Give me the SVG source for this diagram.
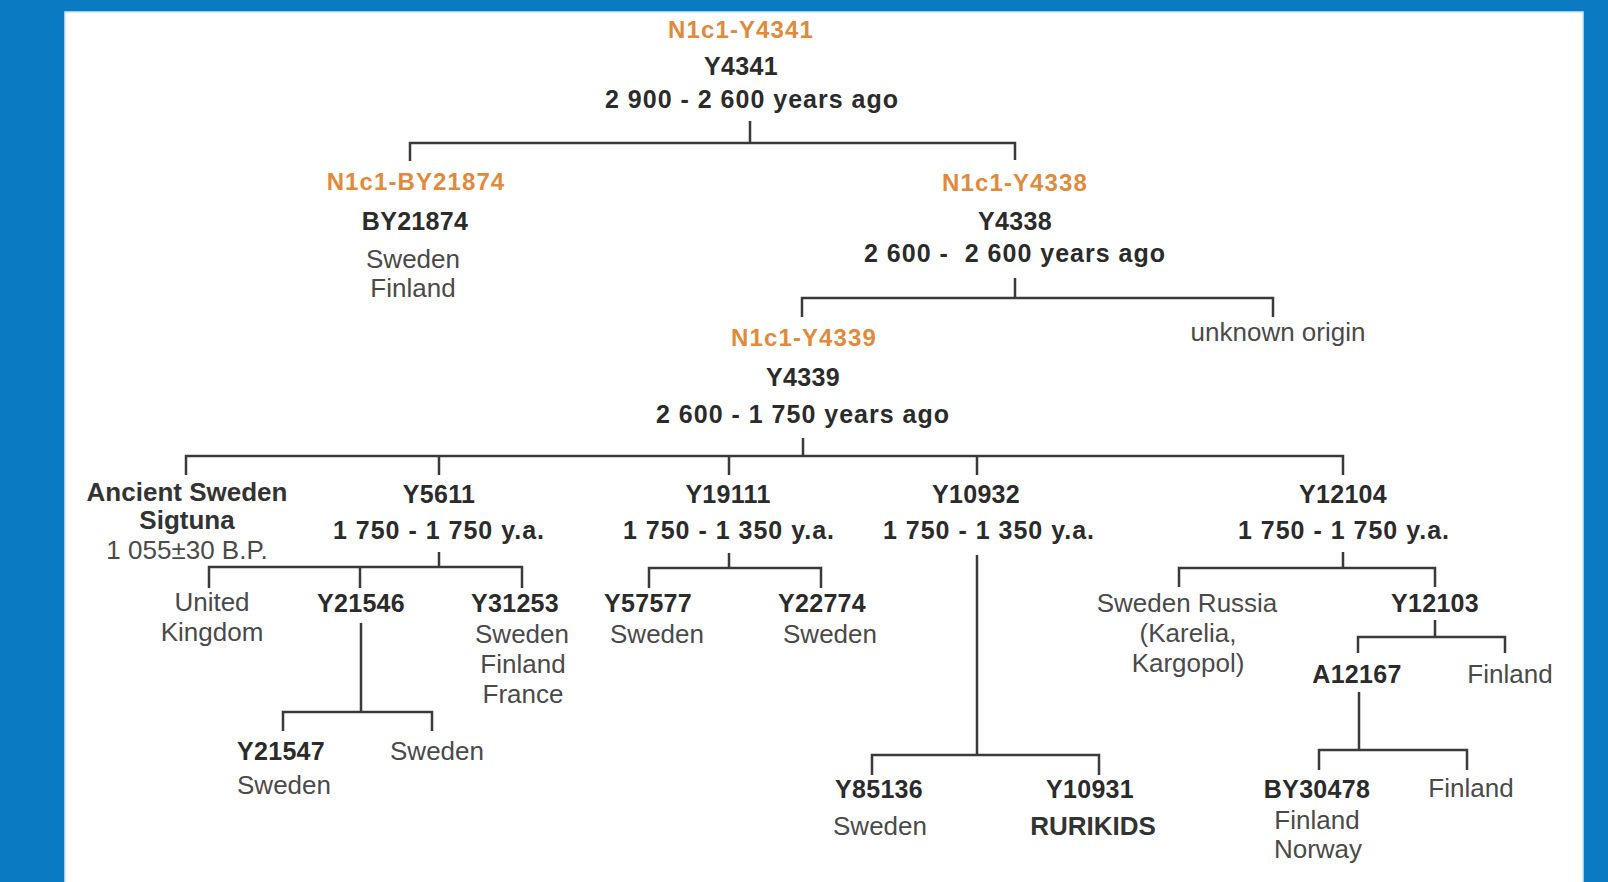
<svg xmlns="http://www.w3.org/2000/svg" width="1608" height="882" viewBox="0 0 1608 882">
<style>
text{font-family:"Liberation Sans",Arial,sans-serif;text-anchor:middle}
.o{font-size:24px;font-weight:bold;fill:#e08a3c;letter-spacing:1.1px}
.b{font-size:25px;font-weight:bold;fill:#2b2b2b;letter-spacing:0.3px}
.d{font-size:25px;font-weight:bold;fill:#2b2b2b;letter-spacing:1px;white-space:pre}
.c{font-size:26px;fill:#4a4a4a}
.cb{font-size:26px;font-weight:bold;fill:#333}
.r{font-size:26px;font-weight:bold;fill:#333}
.ln{fill:none;stroke:#3a3a3a;stroke-width:2.5}
</style>
<rect x="0" y="0" width="1608" height="882" fill="#0a7bc2"/>
<rect x="65" y="12" width="1518" height="880" fill="#ffffff" stroke="#cfe7f6" stroke-width="1.5"/>
<g id="connectors" class="ln">
<path d="M750 121V143M410 161V143H1015V160"/>
<path d="M1015 278V298M802 317V298H1273V317"/>
<path d="M803 438V456M186 475V456H1343V475M439 456V475M729 456V475M977 456V475"/>
<path d="M439 552V567M209 588V567H522V588M360 567V588"/>
<path d="M361 623V712M283 731V712H432V731"/>
<path d="M729 553V568M649 588V568H821V588"/>
<path d="M977 555V755M872 775V755H1099V775"/>
<path d="M1343 552V568M1179 587V568H1435V587"/>
<path d="M1435 620V637M1358 653V637H1505V653"/>
<path d="M1359 692V750M1319 770V750H1467V770"/>
</g>
<g id="n-Y4341"><text class="o" x="741" y="38">N1c1-Y4341</text><text class="b" x="741" y="75">Y4341</text><text class="d" x="752" y="108">2 900 - 2 600 years ago</text></g>
<g id="n-BY21874"><text class="o" x="416" y="190">N1c1-BY21874</text><text class="b" x="415" y="230">BY21874</text><text class="c" x="413" y="268">Sweden</text><text class="c" x="413" y="297">Finland</text></g>
<g id="n-Y4338"><text class="o" x="1015" y="191">N1c1-Y4338</text><text class="b" x="1015" y="230">Y4338</text><text class="d" x="1015" y="262">2 600 -  2 600 years ago</text></g>
<g id="n-unknown"><text class="c" x="1278" y="341">unknown origin</text></g>
<g id="n-Y4339"><text class="o" x="804" y="346">N1c1-Y4339</text><text class="b" x="803" y="386">Y4339</text><text class="d" x="803" y="423">2 600 - 1 750 years ago</text></g>
<g id="n-ancient"><text class="cb" x="187" y="501">Ancient Sweden</text><text class="cb" x="187" y="529">Sigtuna</text><text class="c" x="187" y="559">1 055±30 B.P.</text></g>
<g id="n-Y5611"><text class="b" x="439" y="503">Y5611</text><text class="d" x="439" y="539">1 750 - 1 750 y.a.</text></g>
<g id="n-UK"><text class="c" x="212" y="611">United</text><text class="c" x="212" y="641">Kingdom</text></g>
<g id="n-Y21546"><text class="b" x="361" y="612">Y21546</text></g>
<g id="n-Y31253"><text class="b" x="515" y="612">Y31253</text><text class="c" x="522" y="643">Sweden</text><text class="c" x="523" y="673">Finland</text><text class="c" x="523" y="703">France</text></g>
<g id="n-Y21547"><text class="b" x="281" y="760">Y21547</text><text class="c" x="284" y="794">Sweden</text></g>
<g id="n-Y21546-sweden"><text class="c" x="437" y="760">Sweden</text></g>
<g id="n-Y19111"><text class="b" x="728" y="503">Y19111</text><text class="d" x="729" y="539">1 750 - 1 350 y.a.</text></g>
<g id="n-Y57577"><text class="b" x="648" y="612">Y57577</text><text class="c" x="657" y="643">Sweden</text></g>
<g id="n-Y22774"><text class="b" x="822" y="612">Y22774</text><text class="c" x="830" y="643">Sweden</text></g>
<g id="n-Y10932"><text class="b" x="976" y="503">Y10932</text><text class="d" x="989" y="539">1 750 - 1 350 y.a.</text></g>
<g id="n-Y85136"><text class="b" x="879" y="798">Y85136</text><text class="c" x="880" y="835">Sweden</text></g>
<g id="n-Y10931"><text class="b" x="1090" y="798">Y10931</text><text class="r" x="1093" y="835">RURIKIDS</text></g>
<g id="n-Y12104"><text class="b" x="1343" y="503">Y12104</text><text class="d" x="1344" y="539">1 750 - 1 750 y.a.</text></g>
<g id="n-SwedenRussia"><text class="c" x="1187" y="612">Sweden Russia</text><text class="c" x="1188" y="642">(Karelia,</text><text class="c" x="1188" y="672">Kargopol)</text></g>
<g id="n-Y12103"><text class="b" x="1435" y="612">Y12103</text></g>
<g id="n-A12167"><text class="b" x="1357" y="683">A12167</text></g>
<g id="n-Y12103-finland"><text class="c" x="1510" y="683">Finland</text></g>
<g id="n-BY30478"><text class="b" x="1317" y="798">BY30478</text><text class="c" x="1317" y="829">Finland</text><text class="c" x="1318" y="858">Norway</text></g>
<g id="n-A12167-finland"><text class="c" x="1471" y="797">Finland</text></g>
</svg>
